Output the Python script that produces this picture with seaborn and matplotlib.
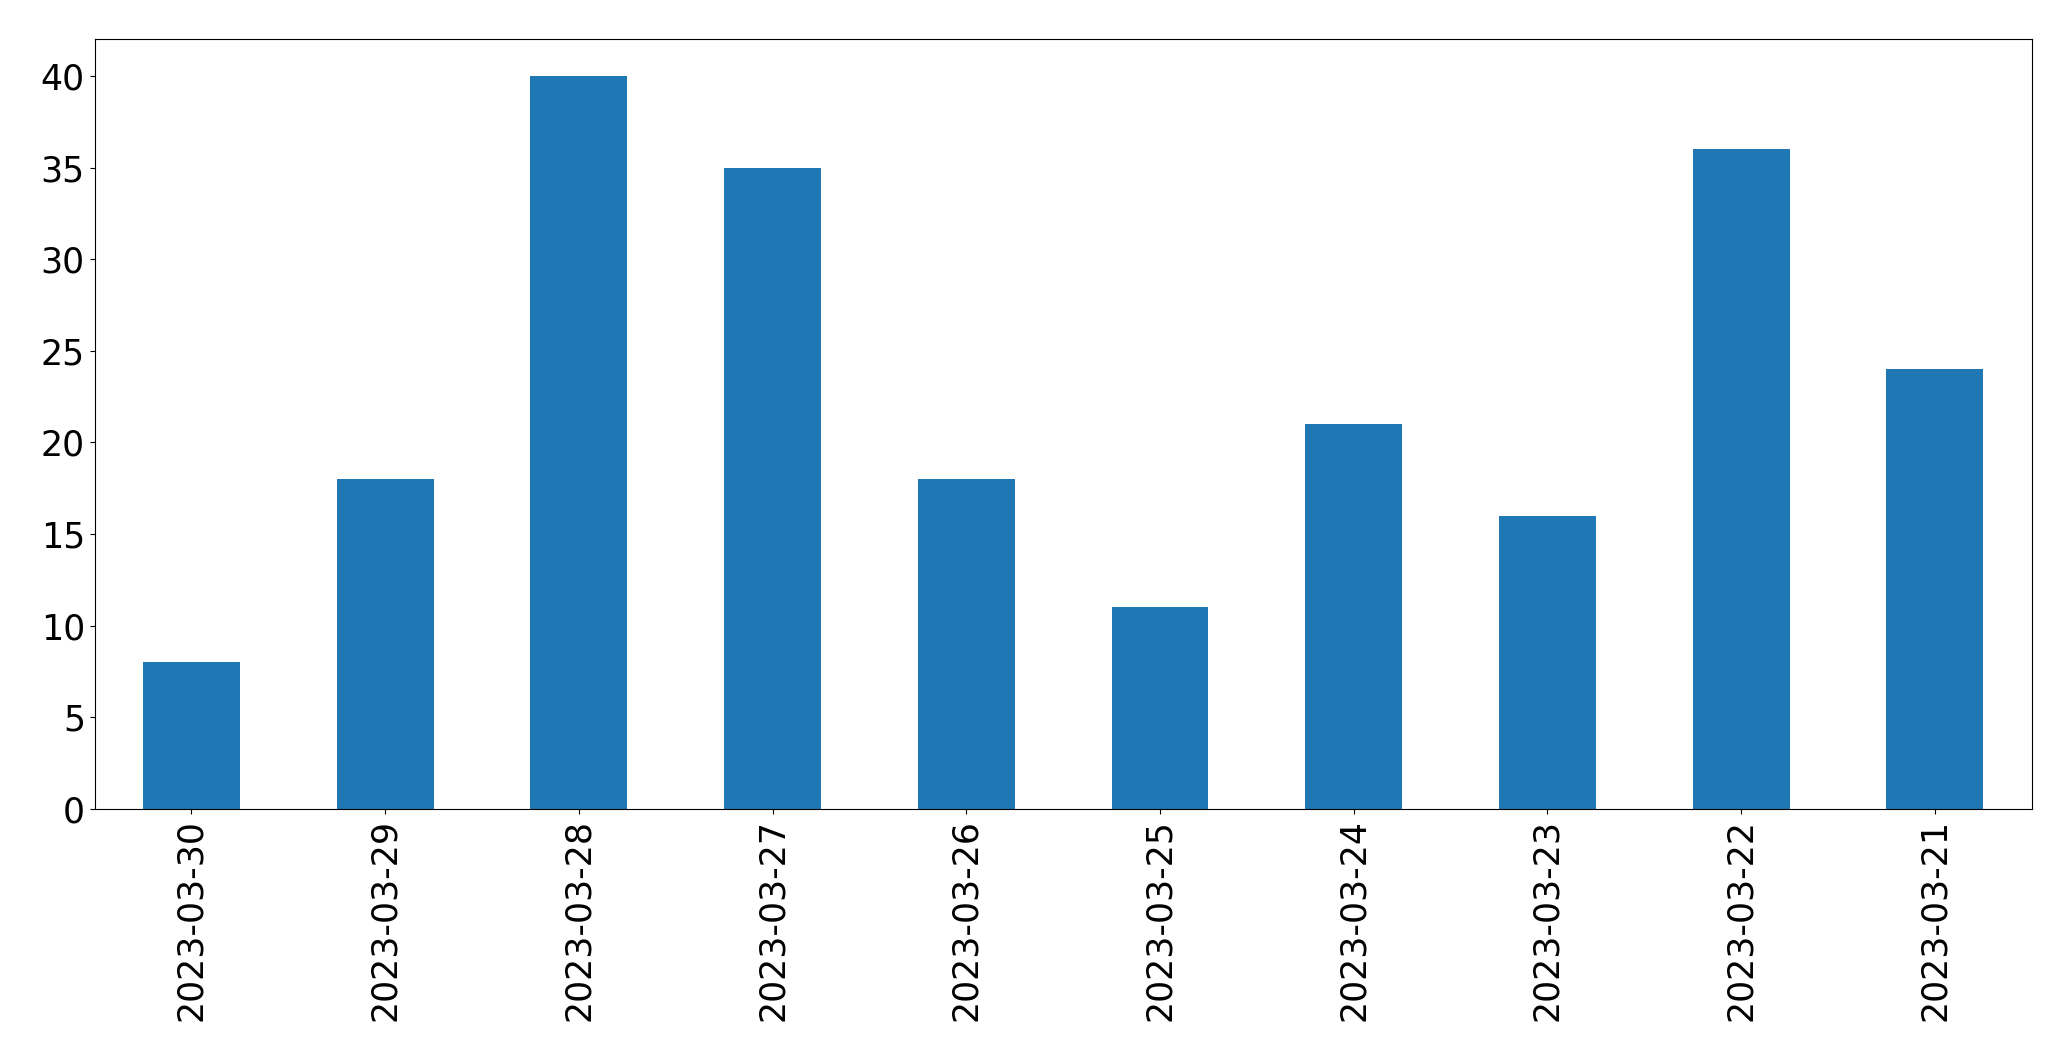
import matplotlib
matplotlib.use("Agg")
import matplotlib.pyplot as plt
import seaborn as sns
import pandas as pd

dates = ["2023-03-30", "2023-03-29", "2023-03-28", "2023-03-27", "2023-03-26",
         "2023-03-25", "2023-03-24", "2023-03-23", "2023-03-22", "2023-03-21"]
counts = [8, 18, 40, 35, 18, 11, 21, 16, 36, 24]

df = pd.DataFrame({"date": dates, "count": counts})

plt.rcParams['font.family'] = ['DejaVu Sans']
fig, ax = plt.subplots(figsize=(20.71, 10.61), dpi=100)
sns.barplot(data=df, x="date", y="count", order=dates, color="#1f77b4",
            saturation=1, width=0.5, ax=ax, edgecolor="none")
ax.set_xlim(-0.5, len(dates) - 0.5)
ax.set_ylim(0, 42)
ax.set_xlabel("")
ax.set_ylabel("")
ax.tick_params(axis="both", labelsize=25)
ax.tick_params(axis="x", labelrotation=90)
fig.subplots_adjust(left=0.0457, right=0.981, top=0.963, bottom=0.2375)
fig.savefig("out.png", dpi=100)
